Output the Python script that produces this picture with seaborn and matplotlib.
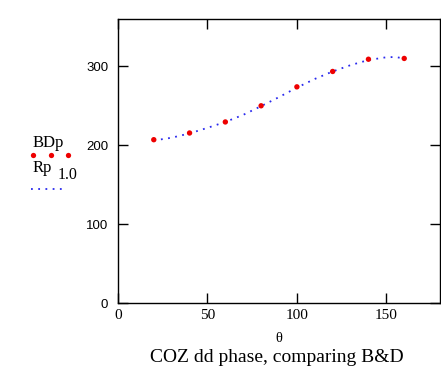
import matplotlib
matplotlib.use("Agg")
import matplotlib.pyplot as plt
from matplotlib.lines import Line2D
import seaborn as sns
import pandas as pd

# Measured phase BDp at sampled angles
theta_pts = [20, 40, 60, 80, 100, 120, 140, 160]
bdp = [207, 215.5, 229.5, 250, 274, 293.5, 309, 310]

# Fitted curve Rp(1.0)
theta_curve = [20, 30, 40, 50, 60, 70, 80, 90, 100, 110, 120, 130, 140, 150, 155, 160]
rp = [206, 209.5, 215, 222, 229.5, 238.5, 249.5, 261, 273, 284, 293.5, 301.5, 308, 311.5, 311.8, 310]

x_ticks = [0, 50, 100, 150]
y_ticks = [0, 100, 200, 300]

sns.set_theme(style="ticks")
plt.rcParams["font.family"] = ["Liberation Serif", "DejaVu Serif"]
plt.rcParams["text.color"] = "black"

fig = plt.figure(figsize=(4.41, 3.86), dpi=100)
ax = fig.add_axes([118 / 441, 83 / 386, 322 / 441, 284 / 386])

pts = pd.DataFrame({"theta": theta_pts, "BDp": bdp})
crv = pd.DataFrame({"theta": theta_curve, "Rp": rp})

sns.lineplot(data=crv, x="theta", y="Rp", ax=ax, color="#2a2aee",
             linestyle=(0, (1, 3)), linewidth=1.3)
sns.scatterplot(data=pts, x="theta", y="BDp", ax=ax, color="#ee0000",
                s=15, edgecolor="none", zorder=3)

ax.set_xlim(0, 180)
ax.set_ylim(0, 360)
ax.set_xticks(x_ticks)
ax.set_yticks(y_ticks)
ax.set_xticklabels([str(v) for v in x_ticks], fontsize=11, family="Liberation Serif")
ax.set_yticklabels([str(v) for v in y_ticks], fontsize=9.5, family="Liberation Sans")
ax.tick_params(axis="both", direction="in", length=7, width=1.0, color="black",
               top=True, right=True, labelcolor="black")
ax.tick_params(axis="x", pad=4)
ax.tick_params(axis="y", pad=7)
for s in ax.spines.values():
    s.set_color("black")
    s.set_linewidth(1.0)
    s.set_visible(True)

ax.set_xlabel("")
ax.set_ylabel("")
fig.text(279 / 441, 1 - 338 / 386, "\u03b8", ha="center", va="center",
         fontsize=10.5, color="black")
fig.text(277 / 441, 1 - 357 / 386, "COZ dd phase, comparing B&D", ha="center",
         va="center", fontsize=14, color="black")

# Legend drawn to the left of the axes
fig.text(33 / 441, 1 - 143 / 386, "BDp", ha="left", va="center", fontsize=12,
         color="black")
fig.add_artist(Line2D([33 / 441, 51 / 441, 68 / 441], [1 - 155 / 386] * 3,
                      transform=fig.transFigure, linestyle="none", marker="o",
                      markersize=3.8, color="#ee0000", markeredgewidth=0))
fig.text(33 / 441, 1 - 168 / 386, "Rp", ha="left", va="center", fontsize=12,
         color="black")
fig.text(58 / 441, 1 - 175 / 386, "1.0", ha="left", va="center", fontsize=11.5,
         color="black")
fig.add_artist(Line2D([31 / 441, 66 / 441], [1 - 189 / 386] * 2,
                      transform=fig.transFigure, linestyle=(0, (1, 3)),
                      linewidth=1.3, color="#2a2aee"))

fig.savefig("out.png", dpi=100, facecolor="white")
